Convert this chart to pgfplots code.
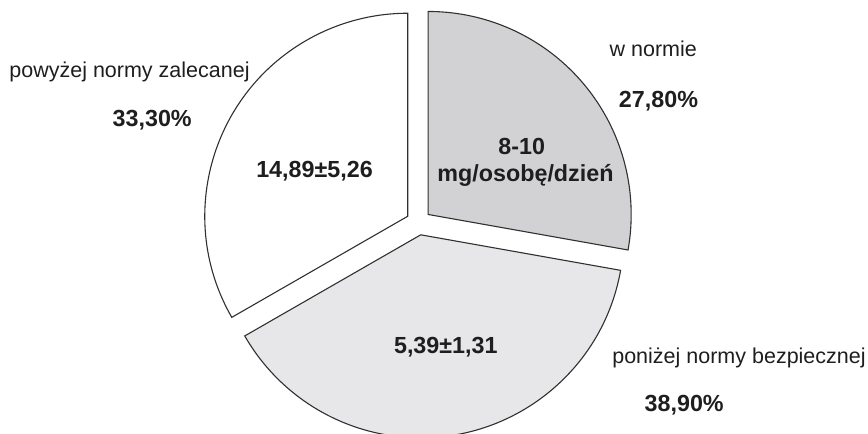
\documentclass[border=0pt]{standalone}
\usepackage{fontspec}
\setmainfont{Liberation Sans}
\usepackage{pgfplots}
\usepackage{pgfplotstable}
\pgfplotsset{compat=1.18}

\definecolor{slicedark}{HTML}{D2D2D4}
\definecolor{slicelight}{HTML}{E7E7E9}
\definecolor{slicewhite}{HTML}{FFFFFF}
\definecolor{outline}{HTML}{303030}
\definecolor{ink}{HTML}{1E1E1E}

% share of respondents in each intake group (%), clockwise from 12 o'clock
\pgfplotstableread[col sep=comma]{
share,fill,name,nx,ny,px,py
27.8,slicedark,w normie,653.3,377.3,658.5,326.7
38.9,slicelight,poniżej normy bezpiecznej,739,70.7,684.2,22.3
33.3,slicewhite,powyżej normy zalecanej,129.5,356.7,152.2,307.3
}\piedata

% pie geometry in axis units (1 unit = 0.5pt)
\def\cx{418.6}
\def\cy{211.5}
\def\dd{12.5}     % explosion offset
\def\rr{101.5pt}  % radius (203 units)

\newcommand\regfont{\fontsize{10.75}{13}\selectfont}
\newcommand\boldfont{\fontsize{11.65}{14}\selectfont\bfseries}

\begin{document}
\begin{tikzpicture}
\useasboundingbox (0,0) rectangle (434pt,217pt);
\begin{axis}[
  at={(0,0)}, anchor=south west,
  x=0.5pt, y=0.5pt,
  xmin=0, xmax=868, ymin=0, ymax=434,
  hide axis,
]
\pgfplotsextra{%
  \gdef\pieangle{90}%
  \pgfplotstableforeachcolumnelement{share}\of\piedata\as\share{%
    \pgfmathsetmacro\sweep{3.6*\share}%
    \pgfmathsetmacro\aend{\pieangle-\sweep}%
    \pgfmathsetmacro\amid{\pieangle-\sweep/2}%
    \pgfmathsetmacro\ox{\cx+\dd*cos(\amid)}%
    \pgfmathsetmacro\oy{\cy+\dd*sin(\amid)}%
    \pgfplotstablegetelem{\pgfplotstablerow}{fill}\of\piedata
    \edef\slicefill{\pgfplotsretval}%
    \filldraw[fill=\slicefill, draw=outline, line width=0.55pt, line join=miter]
      (axis cs:\ox,\oy) -- ++(\pieangle:\rr)
      arc[start angle=\pieangle, end angle=\aend, radius=\rr] -- cycle;
    % category name and its share
    \pgfplotstablegetelem{\pgfplotstablerow}{name}\of\piedata
    \let\slicename\pgfplotsretval
    \pgfplotstablegetelem{\pgfplotstablerow}{nx}\of\piedata
    \let\nx\pgfplotsretval
    \pgfplotstablegetelem{\pgfplotstablerow}{ny}\of\piedata
    \let\ny\pgfplotsretval
    \pgfplotstablegetelem{\pgfplotstablerow}{px}\of\piedata
    \let\px\pgfplotsretval
    \pgfplotstablegetelem{\pgfplotstablerow}{py}\of\piedata
    \let\py\pgfplotsretval
    \node[anchor=base, inner sep=0pt, text=ink] at (axis cs:\nx,\ny)
      {\regfont\slicename};
    \node[anchor=base, inner sep=0pt, text=ink] at (axis cs:\px,\py)
      {\boldfont\pgfmathprintnumber[fixed, fixed zerofill, precision=2,
        use comma, assume math mode=true]{\share}\%};
    \xdef\pieangle{\aend}%
  }%
}
% mean intake inside the slices
\node[anchor=base, inner sep=0pt, text=ink] at (axis cs:314.5,256)
  {\boldfont 14,89±5,26};
\node[anchor=base, inner sep=0pt, text=ink] at (axis cs:521.7,279)
  {\boldfont 8-10};
\node[anchor=base, inner sep=0pt, text=ink] at (axis cs:525.5,252.3)
  {\boldfont mg/osobę/dzień};
\node[anchor=base, inner sep=0pt, text=ink] at (axis cs:445.8,80)
  {\boldfont 5,39±1,31};
\end{axis}
\end{tikzpicture}
\end{document}
